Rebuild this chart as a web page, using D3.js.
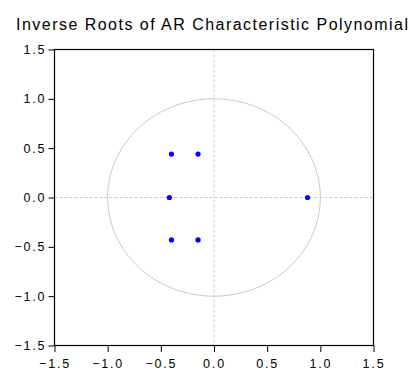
<!DOCTYPE html>
<html>
<head>
<meta charset="utf-8">
<script src="https://cdn.jsdelivr.net/npm/d3@7"></script>
<style>
  body { margin: 0; background: #fff; }
  text { font-family: "Liberation Sans", Arial, sans-serif; fill: #000; }
</style>
</head>
<body>
<div id="chart"></div>
<script>
const title = "Inverse Roots of AR Characteristic Polynomial"
const rootsRe = [-0.40, -0.15, -0.42, 0.88, -0.40, -0.15]
const rootsIm = [0.44, 0.44, 0.0, 0.0, -0.43, -0.43]
const tickValues = [-1.5, -1.0, -0.5, 0.0, 0.5, 1.0, 1.5]

const W = 410, H = 370
const margin = { top: 49.5, right: 36.5, bottom: 24.5, left: 54.5 }
const width = W - margin.left - margin.right
const height = H - margin.top - margin.bottom

const x = d3.scaleLinear().domain([-1.5, 1.5]).range([0, width])
const y = d3.scaleLinear().domain([-1.5, 1.5]).range([height, 0])

const fmt = d => d3.format(".1f")(d)

const svg = d3.select("#chart").append("svg")
  .attr("width", W)
  .attr("height", H)

svg.append("text")
  .attr("x", 16)
  .attr("y", 30)
  .attr("textLength", 392)
  .attr("lengthAdjust", "spacing")
  .style("font-size", "16px")
  .text(title)

const g = svg.append("g")
  .attr("transform", "translate(" + margin.left + "," + margin.top + ")")

// zero lines
g.append("line")
  .attr("x1", 0).attr("x2", width)
  .attr("y1", y(0)).attr("y2", y(0))
  .attr("stroke", "#c8c8c8")
  .attr("stroke-dasharray", "3,2")
g.append("line")
  .attr("x1", x(0)).attr("x2", x(0))
  .attr("y1", 0).attr("y2", height)
  .attr("stroke", "#c8c8c8")
  .attr("stroke-dasharray", "3,2")

// unit circle
const circ = d3.range(0, 361, 2).map(a => [Math.cos(a * Math.PI / 180), Math.sin(a * Math.PI / 180)])
g.append("path")
  .datum(circ)
  .attr("fill", "none")
  .attr("stroke", "#c8c8c8")
  .attr("d", d3.line().x(d => x(d[0])).y(d => y(d[1])))

// roots
g.selectAll(".root")
  .data(rootsRe.map((r, i) => ({ re: r, im: rootsIm[i] })))
  .join("circle")
  .attr("class", "root")
  .attr("cx", d => x(d.re))
  .attr("cy", d => y(d.im))
  .attr("r", 2.6)
  .attr("fill", "#0000ff")

// frame
g.append("rect")
  .attr("width", width)
  .attr("height", height)
  .attr("fill", "none")
  .attr("stroke", "#000")
  .attr("stroke-width", 1.2)

const xAxis = g.append("g")
  .attr("transform", "translate(0," + height + ")")
  .call(d3.axisBottom(x).tickValues(tickValues).tickFormat(fmt).tickSize(6.5).tickPadding(7))
const yAxis = g.append("g")
  .call(d3.axisLeft(y).tickValues(tickValues).tickFormat(fmt).tickSize(6).tickPadding(4))

for (const a of [xAxis, yAxis]) {
  a.select(".domain").remove()
  a.selectAll("line").attr("stroke", "#000")
  a.selectAll("text")
    .style("font-family", "Liberation Sans, Arial, sans-serif")
    .style("font-size", "12.5px")
    .style("letter-spacing", "1.8px")
}
yAxis.selectAll("text").attr("dx", "1.8px")
</script>
</body>
</html>
